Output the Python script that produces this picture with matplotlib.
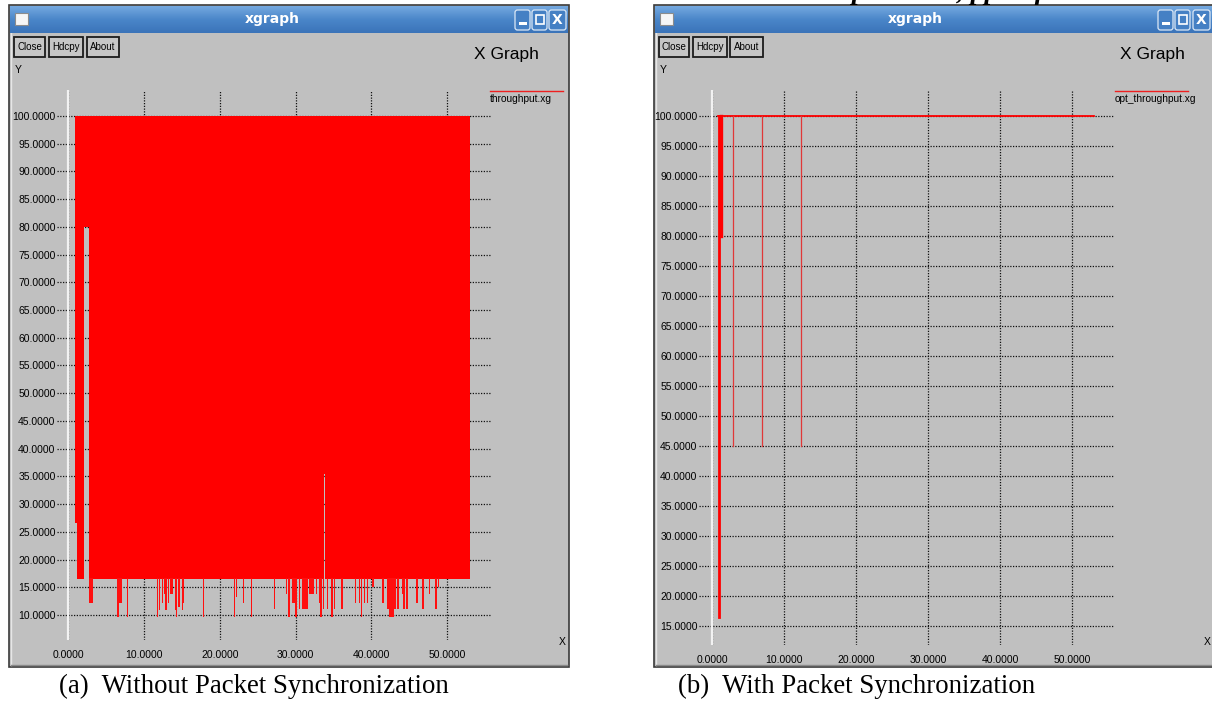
import numpy as np
import matplotlib
matplotlib.use("Agg")
import matplotlib.pyplot as plt
from matplotlib.patches import Rectangle, FancyBboxPatch
from matplotlib.colors import LinearSegmentedColormap

W, H = 1212, 701
SANS = ['Liberation Sans', 'DejaVu Sans']
SERIF = ['Liberation Serif', 'DejaVu Serif']

# throughput.xg: the trace jumps between the floor and 100 so fast it reads as a block
band_edges = [0.86, 1.10, 2.05, 2.70, 33.75, 33.88, 53.0]
band_low = [26.6, 16.4, 80.0, 16.4, 35.4, 16.4]
band_high = [100, 100, 100, 100, 100, 100]

# dips below the floor: position, lowest value, width
dip_x = [2.95, 6.55, 6.85, 7.8, 11.8, 12.0, 12.4, 12.85, 12.9, 13.2, 13.6, 14.1,
         14.3, 14.6, 15.1, 15.25, 17.8, 21.9, 22.2, 23.1, 24.2, 27.2, 28.8, 29.1,
         29.7, 30.1, 30.5, 31.25, 31.9, 32.2, 32.7, 33.2, 33.35, 33.7, 34.2, 34.8,
         35.1, 36.1, 37.9, 38.4, 38.7, 39.1, 39.5, 40.2, 41.5, 42.2, 42.5, 42.8,
         43.1, 43.5, 44.2, 44.3, 44.7, 46.0, 46.8, 47.7, 48.5, 48.8]
dip_low = [12.1, 9.7, 12.1, 9.7, 9.7, 10.9, 12.1, 13.8, 10.9, 12.1, 13.8, 10.9,
           9.7, 11.5, 10.9, 12.1, 9.7, 9.7, 13.3, 12.1, 9.7, 11.0, 13.8, 9.7,
           12.1, 9.7, 11.0, 11.0, 13.8, 13.8, 13.8, 12.1, 9.7, 11.0, 11.0, 9.7,
           11.0, 11.0, 12.1, 12.1, 9.7, 12.1, 12.1, 15.0, 12.1, 11.0, 9.7, 9.7,
           11.0, 11.0, 13.8, 11.0, 11.0, 12.1, 11.0, 13.8, 11.0, 15.0]
dip_w = [0.55, 0.25, 0.35, 0.16, 0.16, 0.16, 0.16, 0.45, 0.16, 0.16, 0.3, 0.16,
         0.16, 0.16, 0.16, 0.16, 0.16, 0.2, 0.16, 0.16, 0.16, 0.16, 0.16, 0.2,
         0.4, 0.25, 0.16, 0.7, 0.16, 0.35, 0.16, 0.2, 0.2, 0.16, 0.2, 0.2,
         0.16, 0.16, 0.16, 0.16, 0.16, 0.16, 0.16, 0.16, 0.25, 0.3, 0.3, 0.25,
         0.16, 0.16, 0.4, 0.16, 0.16, 0.16, 0.16, 0.16, 0.16, 0.16]

# opt_throughput.xg
opt_x = [0.85, 53.0]
opt_y = [100, 100]
opt_drop_x = [1.0, 1.2, 2.96, 6.9, 12.4]
opt_drop_low = [16.5, 80.0, 45.0, 45.0, 45.0]
opt_drop_lw = [2.0, 2.4, 0.9, 0.9, 0.9]

xticks = [0, 10, 20, 30, 40, 50]
yticks_a = list(range(10, 101, 5))
yticks_b = list(range(15, 101, 5))


def px_rect(l, t, r, b):
    return [l / W, 1 - b / H, (r - l) / W, (b - t) / H]


fig = plt.figure(figsize=(W / 100, H / 100), dpi=100)
fig.patch.set_facecolor('white')
bg = fig.add_axes([0, 0, 1, 1])
bg.axis('off')

title_cmap = LinearSegmentedColormap.from_list('tb', ['#74a8df', '#4a86c9', '#3b74b9'])
grad = np.linspace(0, 1, 40).reshape(-1, 1)


def draw_window(x0, x1, title_cx, button_x, ctrl_x, xgraph_x, legend_x, legend_name):
    top, bar, bottom = 5, 33, 667
    bg.add_patch(Rectangle((x0, top), x1 - x0, bottom - top, fc='#c0c0c0',
                           ec='#3a3a3a', lw=1.2, zorder=1))
    bg.plot([x0 + 2, x0 + 2], [bar, bottom - 2], color='#e6e6e6', lw=1, zorder=1.5)
    bg.plot([x0 + 2, x1 - 2], [bottom - 2, bottom - 2], color='#8a8a8a', lw=1, zorder=1.5)
    bg.imshow(grad, extent=(x0 + 1, x1 - 1, bar, top + 1), aspect='auto',
              cmap=title_cmap, origin='upper', zorder=2)
    bg.text(title_cx, 19, 'xgraph', color='white', fontsize=10, weight='bold',
            ha='center', va='center', family='DejaVu Sans', zorder=3)
    bg.add_patch(Rectangle((x0 + 6, 13), 13, 12, fc='#f6f6f6', ec='#8c8c8c',
                           lw=0.8, zorder=3))
    for (a, b), kind in zip(ctrl_x, ['min', 'max', 'close']):
        bg.add_patch(FancyBboxPatch((a, 10), b - a, 20,
                                    boxstyle='round,pad=0,rounding_size=2.5',
                                    fc='#4580c4', ec='#dce8f6', lw=0.9, zorder=3))
        cx = (a + b) / 2
        if kind == 'min':
            bg.add_patch(Rectangle((cx - 4, 22), 8, 2.5, fc='white', ec='none', zorder=4))
        elif kind == 'max':
            bg.add_patch(Rectangle((cx - 4, 15), 8, 9, fc='none', ec='white',
                                   lw=1.2, zorder=4))
        else:
            bg.text(cx, 20, 'X', color='white', fontsize=10, weight='bold',
                    ha='center', va='center', family='DejaVu Sans', zorder=4)
    for (a, b), name in zip(button_x, ['Close', 'Hdcpy', 'About']):
        bg.add_patch(Rectangle((a, 37), b - a, 20, fc='#c6c6c6', ec='#1c1c1c',
                               lw=1.3, zorder=3))
        bg.text((a + b) / 2, 47, name, fontsize=7, ha='center', va='center',
                family=SANS, zorder=4)
    bg.text(xgraph_x, 55, 'X Graph', fontsize=12.5, ha='center', va='center',
            family=SANS, zorder=3)
    bg.text(x0 + 6, 70, 'Y', fontsize=7.5, ha='left', va='center', family=SANS,
            zorder=3)
    bg.plot([legend_x, legend_x + 73], [91, 91], color='#ee2020', lw=1, zorder=3)
    bg.text(legend_x, 99, legend_name, fontsize=7.3, ha='left', va='center',
            family=SANS, zorder=3)


draw_window(9, 569, 272, [(14, 45), (49, 83), (87, 119)],
            [(515, 530), (532, 547), (549, 566)], 506, 490, 'throughput.xg')
draw_window(654, 1215, 915, [(659, 689), (693, 727), (730, 763)],
            [(1158, 1173), (1175, 1190), (1193, 1210)], 1152, 1115, 'opt_throughput.xg')

bg.text(562, 642, 'X', fontsize=7.5, ha='center', va='center', family=SANS, zorder=3)
bg.text(1207, 642, 'X', fontsize=7.5, ha='center', va='center', family=SANS, zorder=3)

# captions under each window
bg.text(59, 686, '(a)  Without Packet Synchronization', fontsize=19.3, ha='left',
        va='center', family=SERIF)
bg.text(678, 686, '(b)  With Packet Synchronization', fontsize=19.3, ha='left',
        va='center', family=SERIF)
# tail end of the line above, cut by the page edge
bg.text(852, -1, 'put Ratio, ppS of', fontsize=20, style='italic', weight='bold',
        ha='left', va='baseline', family=SERIF)

bg.set_xlim(0, W)
bg.set_ylim(H, 0)


def style_axes(ax, yticks):
    ax.set_facecolor('none')
    for s in ax.spines.values():
        s.set_visible(False)
    ax.set_xticks(xticks)
    ax.set_xticklabels([f'{v:.4f}' for v in xticks], family=SANS, fontsize=7.5)
    ax.set_yticks(yticks)
    ax.set_yticklabels([f'{v:.4f}' for v in yticks], family=SANS, fontsize=7.5)
    ax.tick_params(axis='y', length=0, pad=1)
    ax.tick_params(axis='x', length=0, pad=7.5)
    ax.grid(True, color='#111111', linestyle=(0, (1, 1.2)), linewidth=0.9)
    ax.set_axisbelow(True)
    ax.axvline(0, color='#f2f2f2', lw=1.6, zorder=1.5)


# (a) without synchronization
ax1 = fig.add_axes(px_rect(57, 90, 491, 640))
style_axes(ax1, yticks_a)
ax1.set_xlim(-1.49, 55.77)
ax1.set_ylim(5.48, 104.69)
ax1.stairs(band_high, band_edges, baseline=band_low, fill=True, color='#ff0000',
           lw=0, zorder=3)
floor = min(band_low)
ax1.bar(dip_x, [floor + 0.3 - lo for lo in dip_low], bottom=dip_low, width=dip_w,
        color='#ff1010', lw=0, zorder=3)

# (b) with synchronization
ax2 = fig.add_axes(px_rect(699, 90, 1114, 645))
style_axes(ax2, yticks_b)
ax2.set_xlim(-1.81, 55.83)
ax2.set_ylim(11.83, 104.33)
ax2.plot(opt_x, opt_y, color='#ff0000', lw=1.3, zorder=3)
for x, lo, w in zip(opt_drop_x, opt_drop_low, opt_drop_lw):
    ax2.plot([x, x], [100, lo], color='#ff0000' if w > 1.5 else '#e03838',
             lw=w, zorder=3)

fig.savefig('out.png', dpi=100)
